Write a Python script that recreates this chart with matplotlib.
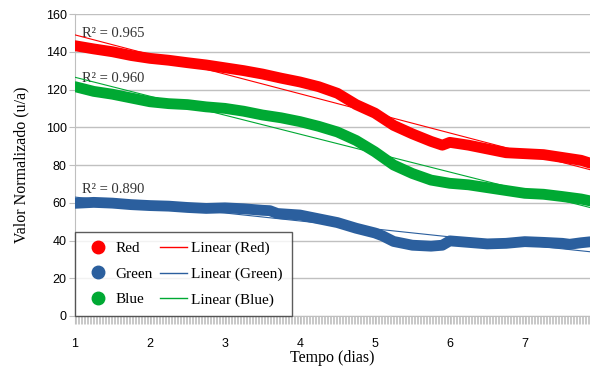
import numpy as np
import matplotlib
matplotlib.use("Agg")
import matplotlib.pyplot as plt
from matplotlib.ticker import MultipleLocator
from matplotlib.lines import Line2D

days_red = [1.0, 1.25, 1.5, 1.75, 2.0, 2.25, 2.5, 2.75, 3.0, 3.25, 3.5, 3.75, 4.0, 4.25, 4.5, 4.75,
            5.0, 5.25, 5.5, 5.75, 5.9, 6.0, 6.25, 6.5, 6.75, 7.0, 7.25, 7.5, 7.75, 7.87]
red = [143.2, 141.5, 140.0, 138.0, 136.5, 135.5, 134.2, 133.0, 131.5, 130.0, 128.2, 126.0, 124.0, 121.5,
       118.0, 112.0, 107.5, 101.0, 96.5, 92.5, 90.5, 92.0, 90.5, 88.5, 86.5, 86.0, 85.5, 84.0, 82.5, 81.0]

days_green = [1.0, 1.25, 1.5, 1.75, 2.0, 2.25, 2.5, 2.75, 3.0, 3.25, 3.5, 3.6, 3.7, 4.0, 4.25, 4.5, 4.75,
              5.0, 5.1, 5.25, 5.5, 5.75, 5.9, 6.0, 6.25, 6.5, 6.75, 7.0, 7.25, 7.5, 7.6, 7.75, 7.87]
green = [59.7, 60.2, 59.8, 59.0, 58.5, 58.2, 57.5, 57.0, 57.3, 56.8, 56.0, 55.8, 54.3, 53.5, 51.5, 49.5, 46.5,
         44.0, 42.5, 39.5, 37.5, 37.0, 37.5, 39.8, 39.0, 38.2, 38.5, 39.4, 39.0, 38.5, 38.0, 38.8, 39.3]

days_blue = [1.0, 1.25, 1.5, 1.75, 2.0, 2.25, 2.5, 2.75, 3.0, 3.25, 3.5, 3.75, 4.0, 4.25, 4.5, 4.75,
             5.0, 5.25, 5.5, 5.75, 6.0, 6.25, 6.5, 6.75, 7.0, 7.25, 7.5, 7.75, 7.87]
blue = [121.5, 119.0, 117.5, 115.5, 113.5, 112.5, 112.0, 110.8, 110.0, 108.5, 106.5, 105.0, 103.0, 100.5,
        97.5, 93.0, 87.0, 80.0, 75.5, 72.0, 70.3, 69.5, 68.0, 66.5, 65.0, 64.5, 63.3, 62.0, 61.0]

r2_labels = ["R² = 0.965", "R² = 0.960", "R² = 0.890"]
x_ticks = [1, 2, 3, 4, 5, 6, 7]
y_ticks = [0, 20, 40, 60, 80, 100, 120, 140, 160]

c_red = "#FF0000"
c_green = "#2B5F9E"
c_blue = "#00A933"
serif = ["Liberation Serif", "DejaVu Serif"]
sans = ["Liberation Sans", "DejaVu Sans"]

fig = plt.figure(figsize=(5.9, 3.72), dpi=100)
ax = fig.add_axes([75/590, 1-316/372, 1-75/590, (316-14)/372])

xmin, xmax = 1.0, 7.87
ax.set_xlim(xmin, xmax)
ax.set_ylim(0, 160)

for d, v, c in [(days_red, red, c_red), (days_green, green, c_green), (days_blue, blue, c_blue)]:
    ax.plot(d, v, color=c, lw=7.8, solid_capstyle="round", solid_joinstyle="round", zorder=3)
    # linear trend from data
    xd = np.linspace(min(d), max(d), 300)
    yd = np.interp(xd, d, v)
    k, b = np.polyfit(xd, yd, 1)
    xx = np.array([xmin, xmax])
    ax.plot(xx, k*xx + b, color=c, lw=0.8, zorder=4)

ax.text(1.1, 148, r2_labels[0], fontsize=10.5, family=serif, color="#333333")
ax.text(1.1, 124, r2_labels[1], fontsize=10.5, family=serif, color="#333333")
ax.text(1.1, 65, r2_labels[2], fontsize=10.5, family=serif, color="#333333")

ax.set_yticks(y_ticks)
ax.set_xticks(x_ticks)
ax.xaxis.set_minor_locator(MultipleLocator(0.02))
ax.grid(axis="y", color="#C0C0C0", lw=1.0)
ax.set_axisbelow(True)
for s in ["top", "right"]:
    ax.spines[s].set_visible(False)
ax.spines["left"].set_color("#BFBFBF")
ax.spines["bottom"].set_color("#BFBFBF")
ax.tick_params(axis="y", length=4, color="#BFBFBF", labelsize=9, pad=2)
ax.tick_params(axis="x", which="major", length=6, color="#BFBFBF", labelsize=9, pad=10)
ax.tick_params(axis="x", which="minor", length=6, color="#C8C8C8", width=0.7)
for lab in ax.get_xticklabels() + ax.get_yticklabels():
    lab.set_family(sans)

ax.set_ylabel("Valor Normalizado (u/a)", family=serif, fontsize=11.5, labelpad=12)
ax.set_xlabel("Tempo (dias)", family=serif, fontsize=11.5, labelpad=0)

handles = [
    Line2D([], [], ls="none", marker="o", ms=9, color=c_red),
    Line2D([], [], ls="none", marker="o", ms=9, color=c_green),
    Line2D([], [], ls="none", marker="o", ms=9, color=c_blue),
    Line2D([], [], color=c_red, lw=1.0),
    Line2D([], [], color=c_green, lw=1.0),
    Line2D([], [], color=c_blue, lw=1.0),
]
labels = ["Red", "Green", "Blue", "Linear (Red)", "Linear (Green)", "Linear (Blue)"]
leg = ax.legend(handles, labels, ncol=2, loc="lower left", bbox_to_anchor=(0.0, 0.0),
                borderaxespad=0, frameon=True, fancybox=False, prop={"family": serif, "size": 11},
                handlelength=1.8, columnspacing=0.45, handletextpad=0.26, labelspacing=0.78,
                borderpad=0.6)
leg.get_frame().set_edgecolor("#333333")
leg.get_frame().set_linewidth(1.0)
leg.set_zorder(6)

fig.savefig("out.png", dpi=100)
